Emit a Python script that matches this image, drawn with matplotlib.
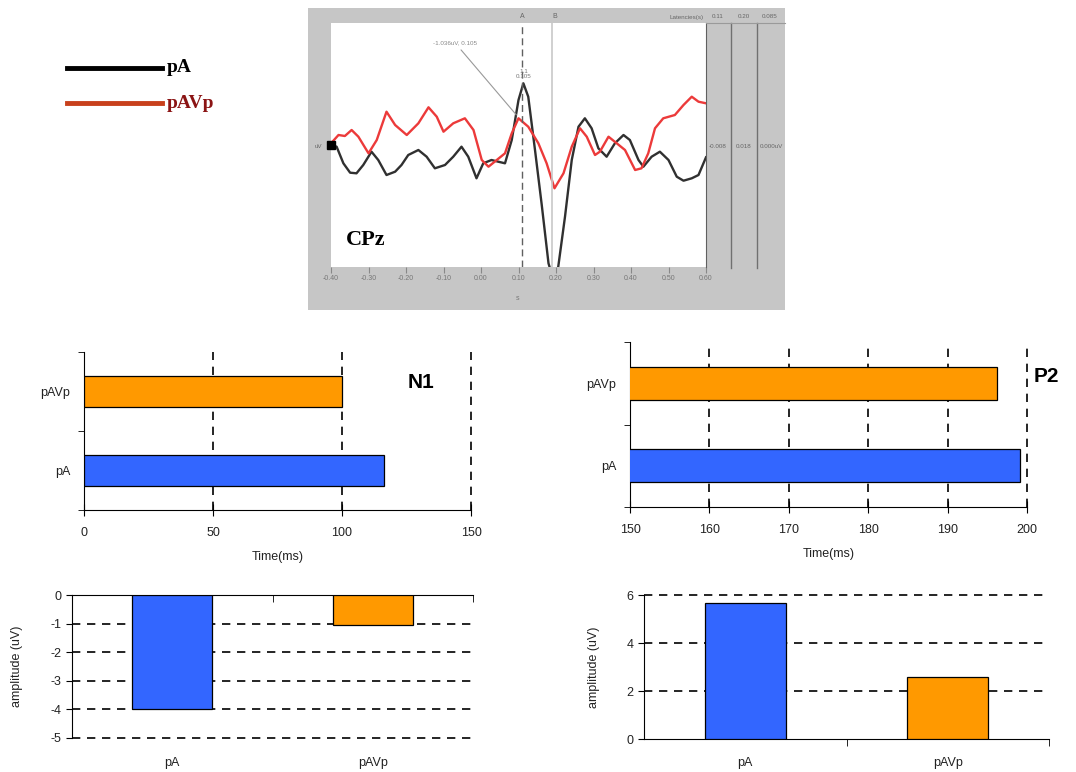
import matplotlib
matplotlib.use("Agg")
import matplotlib.pyplot as plt
from matplotlib.lines import Line2D
from matplotlib.patches import Rectangle

plt.rcParams["font.family"] = ["Liberation Sans", "DejaVu Sans"]

W, H = 1076, 772

# ERP waveform at CPz (time in s, amplitude in display units, up = positive)
pa_t = [-0.400, -0.385, -0.367, -0.349, -0.332, -0.314, -0.292, -0.274, -0.252,
        -0.229, -0.212, -0.194, -0.167, -0.145, -0.123, -0.096, -0.074, -0.052,
        -0.034, -0.012, 0.006, 0.028, 0.046, 0.064, 0.082, 0.100, 0.113, 0.126,
        0.144, 0.162, 0.180, 0.193, 0.206, 0.224, 0.242, 0.260, 0.277, 0.295,
        0.313, 0.335, 0.357, 0.380, 0.397, 0.420, 0.433, 0.455, 0.477, 0.500,
        0.522, 0.540, 0.562, 0.580, 0.600]
pa_v = [0.0, -0.17, -1.83, -2.77, -2.83, -2.0, -0.67, -1.5, -3.0,
        -2.67, -2.0, -1.0, -0.5, -1.17, -2.33, -2.0, -1.17, -0.17,
        -1.17, -3.33, -1.83, -1.5, -1.67, -1.83, 0.5, 4.5, 6.17, 4.83,
        -0.5, -6.0, -11.83, -13.5, -12.17, -7.17, -1.5, 1.83, 2.67, 1.67,
        -0.33, -1.17, 0.17, 1.0, 0.5, -1.5, -2.17, -1.17, -0.67, -1.5,
        -3.17, -3.57, -3.33, -3.0, -1.23]

pavp_t = [-0.400, -0.380, -0.363, -0.345, -0.327, -0.300, -0.278, -0.252, -0.229,
          -0.198, -0.167, -0.140, -0.118, -0.100, -0.074, -0.043, -0.020, 0.002,
          0.020, 0.042, 0.064, 0.082, 0.100, 0.126, 0.153, 0.175, 0.196, 0.220,
          0.242, 0.264, 0.282, 0.304, 0.317, 0.340, 0.362, 0.384, 0.411, 0.428,
          0.446, 0.464, 0.486, 0.517, 0.540, 0.562, 0.580, 0.600]
pavp_v = [0.17, 1.0, 0.9, 1.5, 0.83, -0.83, 0.5, 3.33, 2.0,
          1.0, 2.17, 3.77, 2.83, 1.33, 2.17, 2.67, 1.5, -1.5,
          -2.17, -1.5, -0.83, 1.17, 2.67, 1.83, 0.17, -1.83, -4.33, -2.83,
          -0.17, 1.67, 0.83, -1.0, -0.67, 0.83, 0.17, -0.5, -2.5, -2.33,
          -0.83, 1.67, 2.67, 3.0, 4.0, 4.83, 4.33, 4.17]

erp_xticks = [-0.4, -0.3, -0.2, -0.1, 0.0, 0.1, 0.2, 0.3, 0.4, 0.5, 0.6]
cursor_a, cursor_b = 0.11, 0.19

# bar charts: order is pA, pAVp
conditions = ["pA", "pAVp"]
n1_latency = [116.4, 100.0]
p2_latency = [199.1, 196.2]
n1_amplitude = [-4.0, -1.05]
p2_amplitude = [5.67, 2.58]

blue = "#3366ff"
orange = "#ff9900"
bar_colors = [blue, orange]
dash = (0, (5, 4))


def fbox(x0, y0, x1, y1):
    """pixel box (left, top, right, bottom) -> figure fraction rect"""
    return [x0 / W, 1 - y1 / H, (x1 - x0) / W, (y1 - y0) / H]


def fx(px):
    return px / W


def fy(py):
    return 1 - py / H


fig = plt.figure(figsize=(W / 100, H / 100), dpi=100)

# ---- ERP panel -------------------------------------------------------------
fig.add_artist(Rectangle((fx(308), fy(310)), 477 / W, 302 / H,
                         transform=fig.transFigure, facecolor="#c6c6c6",
                         edgecolor="none", zorder=0))
for px in (731, 757):
    fig.add_artist(Line2D([fx(px), fx(px)], [fy(23), fy(268)],
                          transform=fig.transFigure, color="#707070", lw=1))
fig.add_artist(Line2D([fx(706), fx(785)], [fy(23), fy(23)],
                      transform=fig.transFigure, color="#9a9a9a", lw=0.8))

ax = fig.add_axes(fbox(331, 23, 706, 267))
ax.plot(pa_t, pa_v, color="#303030", lw=1.7, solid_joinstyle="round")
ax.plot(pavp_t, pavp_v, color="#ec3a3a", lw=1.7, solid_joinstyle="round")
ax.axvline(cursor_a, color="#606060", lw=1, ls=(0, (5, 3)))
ax.axvline(cursor_b, color="#c8c8c8", lw=1.2)
ax.set_xlim(-0.4, 0.6)
ax.set_ylim(-12.2, 12.2)
ax.set_xticks(erp_xticks)
ax.set_xticklabels([f"{t:.2f}" for t in erp_xticks], fontsize=5, color="#777777")
ax.tick_params(axis="x", length=4, color="#888888", pad=2)
ax.set_yticks([])
for side in ("top", "left", "bottom"):
    ax.spines[side].set_visible(False)
ax.spines["right"].set_color("#606060")
ax.plot([-0.4], [0], marker="s", color="black", ms=6, clip_on=False)
ax.text(0.04, 0.09, "CPz", transform=ax.transAxes, family="Liberation Serif",
        fontweight="bold", fontsize=16)
ax.annotate("-1.036uV, 0.105", xy=(0.099, 2.8), xytext=(-0.07, 10.0),
            fontsize=4.5, color="#888888", ha="center", va="bottom",
            arrowprops=dict(arrowstyle="-", color="#999999", lw=0.8))
ax.text(0.113, 6.6, "1.1\n0.105", fontsize=4.5, color="#777777", ha="center",
        va="bottom", linespacing=0.9)

fig.text(fx(522), fy(17), "A", fontsize=5, color="#666666", ha="center", va="center")
fig.text(fx(555), fy(17), "B", fontsize=5, color="#666666", ha="center", va="center")
fig.text(fx(704), fy(17), "Latencies(s)", fontsize=4.5, color="#666666",
         ha="right", va="center")
for px, s in zip((718, 744, 770), ("0.11", "0.20", "0.085")):
    fig.text(fx(px), fy(17), s, fontsize=4.5, color="#666666", ha="center", va="center")
for px, s in zip((718, 744, 771), ("-0.008", "0.018", "0.000uV")):
    fig.text(fx(px), fy(146), s, fontsize=4.5, color="#666666", ha="center", va="center")
fig.text(fx(318), fy(146), "uV", fontsize=4.5, color="#666666", ha="center", va="center")
fig.text(fx(518), fy(298), "s", fontsize=5, color="#777777", ha="center", va="center")

# legend
fig.add_artist(Line2D([fx(67), fx(162)], [fy(68), fy(68)],
                      transform=fig.transFigure, color="black", lw=3.5))
fig.add_artist(Line2D([fx(67), fx(162)], [fy(103), fy(103)],
                      transform=fig.transFigure, color="#c8401c", lw=3.5))
fig.text(fx(167), fy(68), "pA", family="Liberation Serif", fontweight="bold",
         fontsize=14, va="center", color="black")
fig.text(fx(167), fy(103), "pAVp", family="Liberation Serif", fontweight="bold",
         fontsize=14, va="center", color="#8b1414")


# ---- latency bar charts ----------------------------------------------------
def latency_panel(rect, values, xlim, xticks, name, name_xy):
    a = fig.add_axes(rect)
    a.barh([0, 1], values, height=0.4, color=bar_colors, edgecolor="black",
           linewidth=0.9, zorder=3)
    a.set_xlim(*xlim)
    a.set_ylim(-0.5, 1.5)
    a.set_xticks(xticks)
    a.set_xticklabels([str(t) for t in xticks], fontsize=9, color="#222222")
    a.set_yticks([0, 1])
    a.set_yticklabels(conditions, fontsize=9, color="#222222")
    a.set_yticks([-0.5, 0.5, 1.5], minor=True)
    a.tick_params(axis="y", which="major", length=0, pad=10)
    a.tick_params(axis="y", which="minor", length=4, direction="out")
    a.tick_params(axis="x", length=8, direction="inout", pad=8)
    a.xaxis.grid(True, color="black", ls=dash, lw=1.2)
    for line, t in zip(a.get_xgridlines(), xticks):
        line.set_clip_on(False)
        if t == xlim[0]:
            line.set_visible(False)
    a.set_axisbelow(True)
    for side in ("top", "right"):
        a.spines[side].set_visible(False)
    a.set_xlabel("Time(ms)", fontsize=9, color="#222222", labelpad=9)
    a.text(*name_xy, name, transform=a.transAxes, fontsize=15,
           fontweight="bold", ha="center", va="center")
    return a


latency_panel(fbox(84, 352, 471, 510), n1_latency, (0, 150), [0, 50, 100, 150],
              "N1", (0.87, 0.805))
latency_panel(fbox(630, 342, 1027, 507), p2_latency, (150, 200),
              [150, 160, 170, 180, 190, 200], "P2", (1.05, 0.79))


# ---- amplitude bar charts --------------------------------------------------
def amplitude_panel(rect, values, ylim, yticks, axis_on_top, label_pad, cat_pad):
    a = fig.add_axes(rect)
    a.bar([0, 1], values, width=0.4, color=bar_colors, edgecolor="black",
          linewidth=0.9, zorder=3)
    a.set_xlim(-0.5, 1.5)
    a.set_ylim(*ylim)
    a.set_yticks(yticks)
    a.set_yticklabels([str(t) for t in yticks], fontsize=9, color="#222222")
    a.tick_params(axis="y", length=4, direction="out")
    a.set_xticks([0, 1])
    a.set_xticklabels(conditions, fontsize=9, color="#222222")
    a.set_xticks([0.5, 1.5], minor=True)
    a.tick_params(axis="x", which="major", length=0, pad=cat_pad)
    a.yaxis.grid(True, color="black", ls=dash, lw=1.2)
    for line, t in zip(a.get_ygridlines(), yticks):
        line.set_clip_on(False)
        if t == 0:
            line.set_visible(False)
    a.set_axisbelow(True)
    a.spines["right"].set_visible(False)
    if axis_on_top:
        a.spines["bottom"].set_visible(False)
        a.tick_params(axis="x", which="minor", top=True, bottom=False,
                      direction="in", length=5)
    else:
        a.spines["top"].set_visible(False)
        a.tick_params(axis="x", which="minor", direction="out", length=5)
    a.set_ylabel("amplitude (uV)", fontsize=9, color="#222222", labelpad=label_pad)
    return a


amplitude_panel(fbox(72, 595, 473, 738), n1_amplitude, (-5, 0),
                [0, -1, -2, -3, -4, -5], True, 20, 14)
amplitude_panel(fbox(644, 595, 1049, 739), p2_amplitude, (0, 6), [0, 2, 4, 6],
                False, 19, 13)

fig.savefig("out.png", dpi=100)
